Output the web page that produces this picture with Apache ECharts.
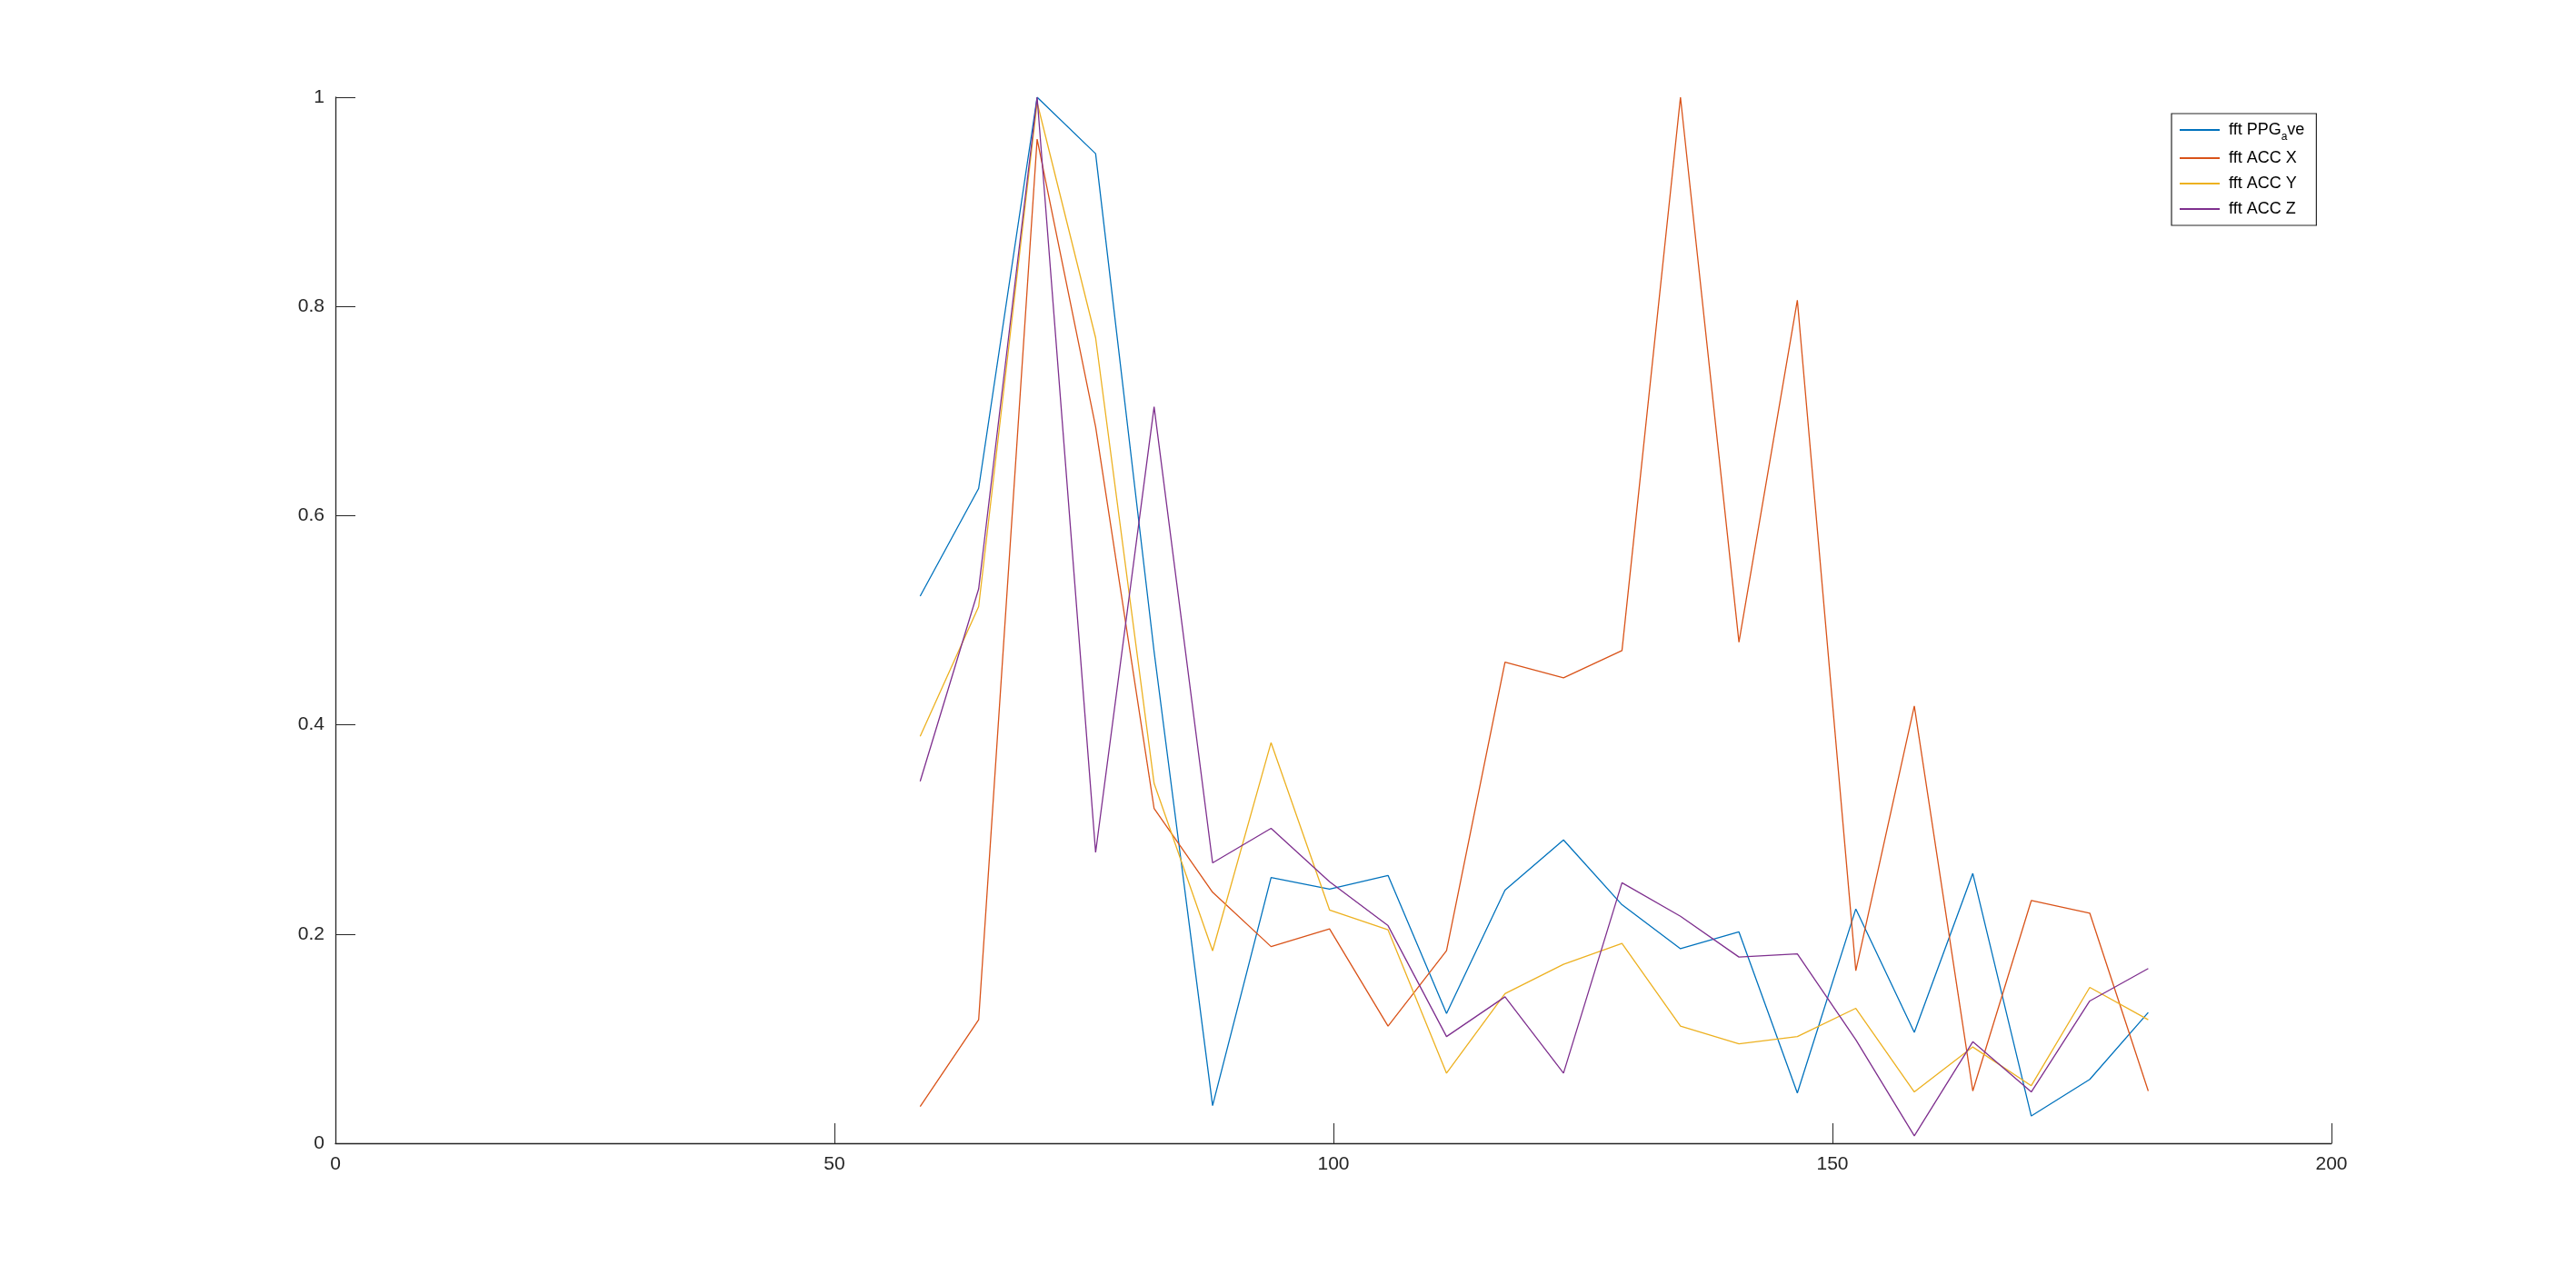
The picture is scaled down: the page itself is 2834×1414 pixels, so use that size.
<!DOCTYPE html>
<html>
<head>
<meta charset="utf-8">
<script src="https://cdn.jsdelivr.net/npm/echarts@6/dist/echarts.min.js"></script>
<style>
html,body{margin:0;padding:0;background:#fff;}
#chart{width:2834px;height:1414px;}
</style>
</head>
<body>
<div id="chart"></div>
<script>
// Frequency bins (x values)
const freq = [58.59, 64.45, 70.31, 76.17, 82.03, 87.89, 93.75, 99.61, 105.47, 111.33, 117.19,
              123.05, 128.91, 134.77, 140.63, 146.48, 152.34, 158.20, 164.06, 169.92, 175.78, 181.64];

const fftPPG = [0.523, 0.626, 1.000, 0.946, 0.470, 0.036, 0.254, 0.243, 0.256, 0.124, 0.242,
                0.290, 0.228, 0.186, 0.202, 0.048, 0.224, 0.106, 0.258, 0.026, 0.061, 0.125];
const fftAccX = [0.035, 0.118, 0.960, 0.685, 0.320, 0.240, 0.188, 0.205, 0.112, 0.184, 0.460,
                 0.445, 0.471, 1.000, 0.479, 0.806, 0.165, 0.418, 0.050, 0.232, 0.220, 0.050];
const fftAccY = [0.389, 0.513, 0.995, 0.770, 0.344, 0.184, 0.383, 0.223, 0.204, 0.067, 0.143,
                 0.171, 0.191, 0.112, 0.095, 0.102, 0.129, 0.049, 0.092, 0.055, 0.149, 0.118];
const fftAccZ = [0.346, 0.530, 1.000, 0.278, 0.704, 0.268, 0.301, 0.250, 0.208, 0.102, 0.140,
                 0.067, 0.249, 0.217, 0.178, 0.181, 0.099, 0.007, 0.097, 0.049, 0.136, 0.167];

const seriesNames = ['fft PPG_ave', 'fft ACC X', 'fft ACC Y', 'fft ACC Z'];
const seriesColors = ['#0072BD', '#D95319', '#EDB120', '#7E2F8E'];
const seriesValues = [fftPPG, fftAccX, fftAccY, fftAccZ];

const xTicks = [0, 50, 100, 150, 200];
const yTicks = [0, 0.2, 0.4, 0.6, 0.8, 1];

const axisColor = '#262626';
const font = 'Liberation Sans, Arial, Helvetica, sans-serif';

const chart = echarts.init(document.getElementById('chart'));
chart.setOption({
  animation: false,
  backgroundColor: '#ffffff',
  grid: { left: 369, right: 269, top: 107, bottom: 156, containLabel: false },
  xAxis: {
    type: 'value', min: xTicks[0], max: xTicks[xTicks.length - 1], interval: 50,
    axisLine: { show: true, onZero: false, lineStyle: { color: axisColor, width: 1.3 } },
    axisTick: { show: true, inside: true, length: 22, lineStyle: { color: axisColor, width: 1 } },
    splitLine: { show: false },
    axisLabel: { color: axisColor, fontSize: 21, fontFamily: font, margin: 13 }
  },
  yAxis: {
    type: 'value', min: yTicks[0], max: yTicks[yTicks.length - 1], interval: 0.2,
    axisLine: { show: true, onZero: false, lineStyle: { color: axisColor, width: 1.3 } },
    axisTick: { show: true, inside: true, length: 22, lineStyle: { color: axisColor, width: 1 } },
    splitLine: { show: false },
    axisLabel: { color: axisColor, fontSize: 21, fontFamily: font, margin: 12 }
  },
  legend: {
    orient: 'vertical',
    left: 2389, top: 125,
    backgroundColor: '#ffffff',
    borderColor: '#262626', borderWidth: 1.2,
    padding: [7, 13, 7, 9],
    itemGap: 6,
    itemWidth: 44, itemHeight: 2,
    icon: 'rect',
    data: seriesNames,
    formatter: function (name) {
      return name === 'fft PPG_ave' ? 'fft PPG{sub|a}ve' : name;
    },
    textStyle: {
      color: '#000', fontSize: 18, fontFamily: font, lineHeight: 22,
      padding: [0, 0, 0, 5],
      rich: { sub: { fontSize: 12, fontFamily: font, color: '#000', lineHeight: 12, verticalAlign: 'bottom', padding: [0, 0, -3, 0] } }
    }
  },
  series: seriesNames.map(function (name, k) {
    return {
      name: name,
      type: 'line',
      showSymbol: false,
      symbol: 'none',
      color: seriesColors[k],
      lineStyle: { color: seriesColors[k], width: 1.3 },
      data: freq.map(function (f, i) { return [f, seriesValues[k][i]]; })
    };
  })
});
</script>
</body>
</html>
